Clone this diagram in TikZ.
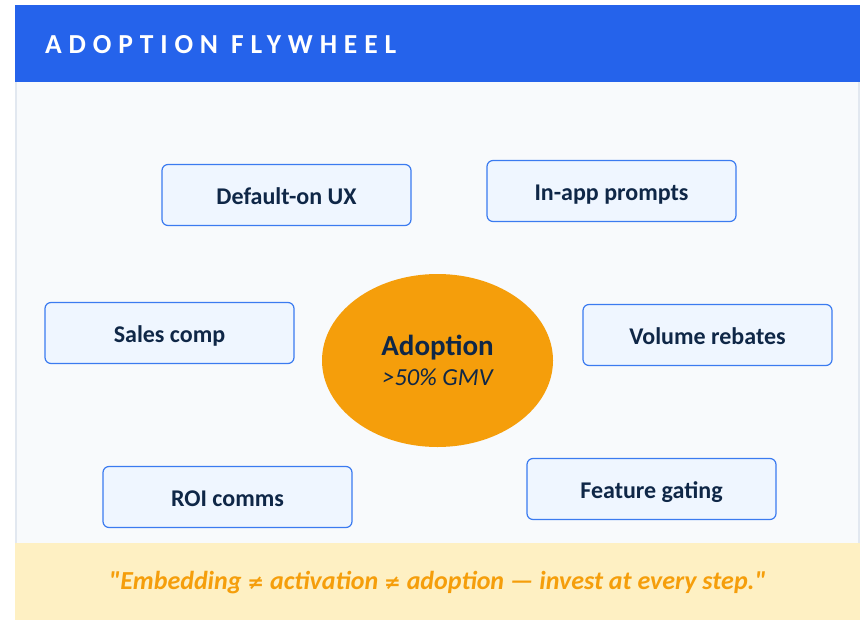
\documentclass[tikz,border=0pt]{standalone}
\usepackage{fontspec}
\setmainfont{Carlito}
\newfontfamily\titlefont[LetterSpace=25]{Carlito}
\newfontfamily\signfont{DejaVu Sans}
\usetikzlibrary{positioning, shapes.geometric}
\definecolor{hdrblue}{HTML}{2563EB}
\definecolor{panelbg}{HTML}{F8FAFC}
\definecolor{panelline}{HTML}{E2E8F0}
\definecolor{boxfill}{HTML}{EFF6FF}
\definecolor{boxline}{HTML}{3B7BF0}
\definecolor{inkblue}{HTML}{0F2747}
\definecolor{hubamber}{HTML}{F59E0B}
\definecolor{notefill}{HTML}{FEF0C3}
\newcommand{\noteq}{{\signfont\fontsize{20}{24}\selectfont ≠}}
\tikzset{
    lever/.style={rectangle, rounded corners=6pt, draw=boxline, fill=boxfill, line width=1.2pt, minimum width=249pt, minimum height=61pt, align=center, text=inkblue, text height=22pt, text depth=3pt, font=\fontsize{24}{28}\selectfont\bfseries},
    hub/.style={ellipse, fill=hubamber, minimum width=231pt, minimum height=173pt, align=center, text=inkblue, inner sep=0pt},
    notetext/.style={text=hubamber, font=\fontsize{26}{30}\selectfont\bfseries\itshape}
}
\begin{document}
\begin{tikzpicture}[x=1pt, y=-1pt]
        \useasboundingbox (0,0) rectangle (866,620);

        % Panel, header and footer band
        \fill[white] (0,0) rectangle (866,620);
        \fill[panelbg] (15,82) rectangle (860,543);
        \draw[panelline, line width=2pt] (16,82) -- (16,543);
        \draw[panelline, line width=2pt] (859,82) -- (859,543);
        \fill[hdrblue] (15,5) rectangle (860,82);
        \fill[notefill] (15,543) rectangle (860,620);
        \node[anchor=west, text=white, font=\titlefont\fontsize{27.5}{32}\selectfont\bfseries, inner sep=0pt] (title) at (45,45) {ADOPTION FLYWHEEL};

        % Hub
        \node[hub] (adoption) at (437.5,360.5) {{\fontsize{29}{34}\selectfont\bfseries Adoption}\\[7pt]{\fontsize{24.5}{28}\selectfont\itshape >50\% GMV}};

        % Levers around the hub
        \node[lever] (defaulton) at (286.5,195) {Default-on UX};
        \node[lever] (inapp) at (611.5,191) {In-app prompts};
        \node[lever] (salescomp) at (169.5,333) {Sales comp};
        \node[lever] (rebates) at (707.5,335) {Volume rebates};
        \node[lever] (roicomms) at (227.5,497) {ROI comms};
        \node[lever] (gating) at (651.5,489) {Feature gating};

        % Footer quote
        \node[notetext] (quote) at (437.5,583) {\textquotedbl Embedding \noteq{} activation \noteq{} adoption — invest at every step.\textquotedbl};
    \end{tikzpicture}
\end{document}
